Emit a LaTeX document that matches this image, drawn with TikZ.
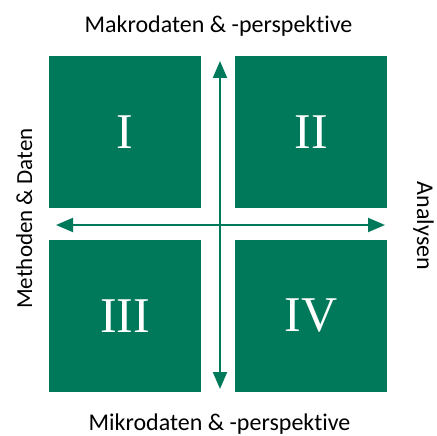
\documentclass[tikz,border=0pt]{standalone}
\usepackage{fontspec}
\setmainfont{Carlito}[Ligatures=NoCommon]
\newfontfamily\numfont{Liberation Serif}
\usetikzlibrary{arrows.meta}
\definecolor{quadgreen}{RGB}{0,121,91}
\tikzset{
  quad/.style={fill=quadgreen, draw=none, minimum width=152pt, minimum height=152pt, inner sep=0pt, text=white, font=\numfont\fontsize{50}{50}\selectfont},
  axis/.style={draw=quadgreen, line width=2pt, {Triangle[length=17pt,width=14pt]}-{Triangle[length=17pt,width=14pt]}},
  lbl/.style={font=\fontsize{24}{24}\selectfont, text=black, inner sep=0pt}
}
\begin{document}
\begin{tikzpicture}[x=1pt,y=-1pt]
\useasboundingbox (0,0) rectangle (437,436);
\node[quad] (q1) at (125,132) {I};
\node[quad] (q2) at (311,132) {II};
\node[quad] (q3) at (125,316) {III};
\node[quad] (q4) at (311,316) {IV};
\coordinate (vt) at (220,61);
\coordinate (vb) at (220,389);
\coordinate (hl) at (56,225);
\coordinate (hr) at (385,225);
\draw[axis] (vb) -- (vt);
\draw[axis] (hl) -- (hr);
\node[lbl, anchor=base] (top) at (218.5,33) {Makrodaten \& -perspektive};
\node[lbl, anchor=base] (bot) at (219.5,430.5) {Mikrodaten \& -perspektive};
\node[lbl, anchor=base, rotate=90, font=\fontsize{23}{23}\selectfont] (left) at (32,218.5) {Methoden \& Daten};
\node[lbl, anchor=base, rotate=-90] (right) at (417,226) {Analysen};
\end{tikzpicture}
\end{document}
